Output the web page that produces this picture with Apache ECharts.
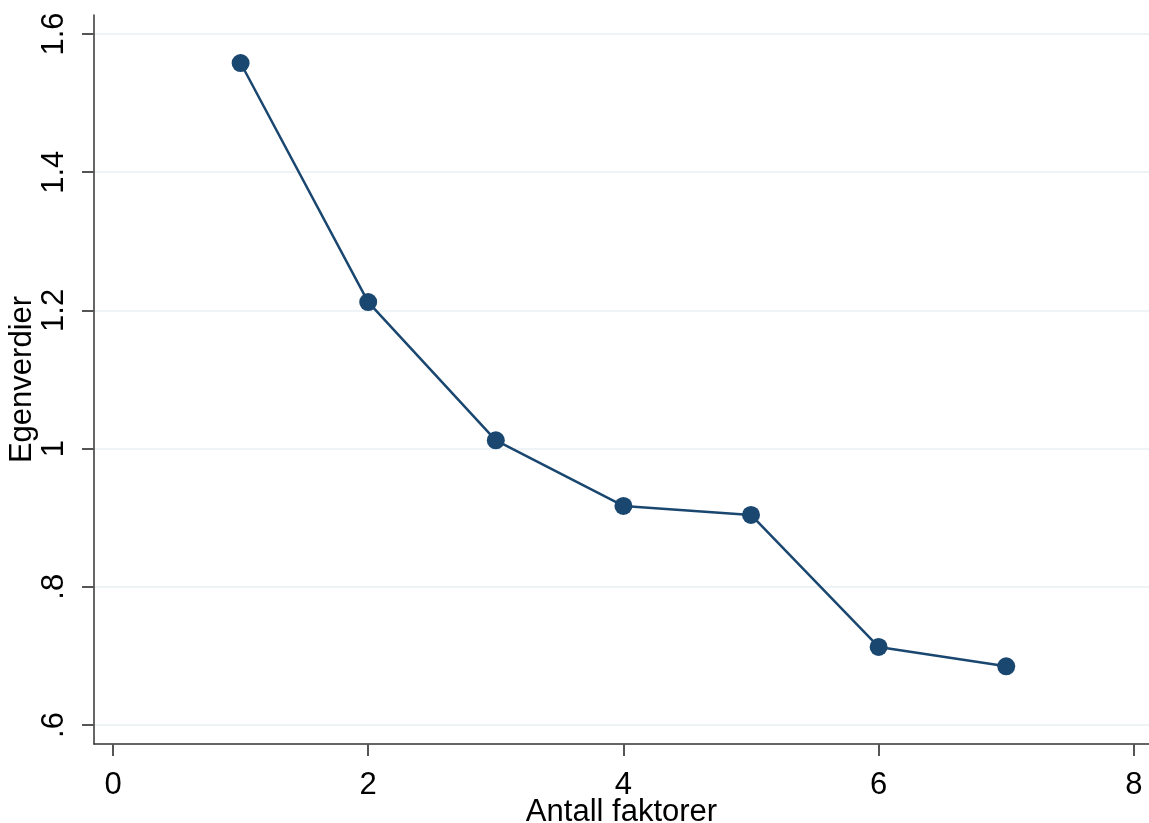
<!DOCTYPE html>
<html>
<head>
<meta charset="utf-8">
<script src="https://cdn.jsdelivr.net/npm/echarts@6/dist/echarts.min.js"></script>
<style>
html,body{margin:0;padding:0;background:#fff;}
#chart{width:1149px;height:823px;}
</style>
</head>
<body>
<div id="chart"></div>
<script>
const factors = [1, 2, 3, 4, 5, 6, 7];
const eigenvalues = [1.558, 1.212, 1.012, 0.917, 0.904, 0.713, 0.685];
const xTicks = [0, 2, 4, 6, 8];
const yTicks = [0.6, 0.8, 1.0, 1.2, 1.4, 1.6];

function fmtY(v) {
  let s = String(Math.round(v * 10) / 10);
  if (s.startsWith('0.')) s = s.slice(1);
  return s;
}

const chart = echarts.init(document.getElementById('chart'), null, {renderer: 'canvas'});
const font = '"Liberation Sans", Arial, sans-serif';
chart.setOption({
  animation: false,
  backgroundColor: '#ffffff',
  grid: {left: 94, right: 0, top: 15, bottom: 79, containLabel: false, outerBoundsMode: 'none'},
  xAxis: {
    type: 'value',
    min: -0.149,
    max: 8.119,
    name: 'Antall faktorer',
    nameLocation: 'middle',
    nameGap: 53,
    nameMoveOverlap: false,
    nameTextStyle: {fontFamily: font, fontSize: 31, color: '#000'},
    axisLine: {show: true, onZero: false, lineStyle: {color: '#333', width: 1.5}},
    axisTick: {show: true, length: 12, customValues: xTicks, lineStyle: {color: '#555', width: 2}},
    axisLabel: {customValues: xTicks, margin: 26, fontFamily: font, fontSize: 31, color: '#000',
      formatter: v => String(v)},
    splitLine: {show: false}
  },
  yAxis: {
    type: 'value',
    min: 0.5725,
    max: 1.6275,
    name: 'Egenverdier',
    nameLocation: 'middle',
    nameGap: 56,
    nameRotate: 90,
    nameMoveOverlap: false,
    nameTextStyle: {fontFamily: font, fontSize: 31, color: '#000'},
    axisLine: {show: true, onZero: false, lineStyle: {color: '#333', width: 1.5}},
    axisTick: {show: true, length: 12, customValues: yTicks, lineStyle: {color: '#555', width: 2}},
    axisLabel: {customValues: yTicks, rotate: 90, margin: 24, fontFamily: font, fontSize: 31, color: '#000',
      formatter: v => fmtY(v)},
    splitLine: {show: true, lineStyle: {color: '#e8f0f2', width: 1.5}}
  },
  series: [{
    type: 'line',
    data: factors.map((f, i) => [f, eigenvalues[i]]),
    symbol: 'circle',
    symbolSize: 18,
    itemStyle: {color: '#1a476f'},
    lineStyle: {color: '#1a476f', width: 2.5}
  }]
});
</script>
</body>
</html>
